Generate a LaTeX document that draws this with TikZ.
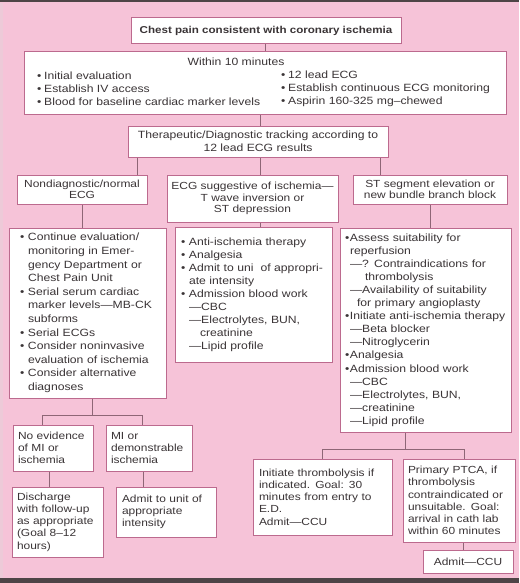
\documentclass[tikz,border=0pt]{standalone}
\usepackage{fontspec}
\newfontfamily\chartfont{Liberation Sans}[FakeStretch=1.16]

\definecolor{pagepink}{HTML}{F6C3D8}
\definecolor{edgepink}{HTML}{EDCAD8}
\definecolor{boxline}{HTML}{BC6A8E}
\definecolor{linkline}{HTML}{8E6676}
\definecolor{inkgray}{HTML}{3A3436}
\definecolor{scanband}{HTML}{4E4446}

% list helpers: bullet with gap, hanging indent, tight bullet
\newcommand\bu{\makebox[8pt][l]{•}}
\newcommand\ii{\hspace*{8pt}}
\newcommand\rb{\makebox[5pt][l]{•}}

\tikzset{
  box/.style={draw=boxline, fill=white, line width=1pt, rectangle, text=inkgray},
  txt/.style={font=\chartfont\fontsize{10.5}{13.1}\selectfont},
  headtxt/.style={font=\chartfont\fontsize{10.3}{11.6}\selectfont},
  smalltxt/.style={font=\chartfont\fontsize{10.3}{12.2}\selectfont},
  listbox/.style={box, align=left, inner ysep=0pt},
  link/.style={draw=linkline, line width=0.9pt},
}

\begin{document}
\begin{tikzpicture}[x=1pt,y=-1pt]
\useasboundingbox (0,0) rectangle (519,583);

% page
\fill[pagepink] (0,0) rectangle (519,583);
\fill[edgepink] (0,3) rectangle (3,578);
\fill[scanband] (0,0) rectangle (519,2.5);
\fill[scanband] (0,578) rectangle (519,583);

% first steps
\node[box, font=\chartfont\bfseries\fontsize{10}{12}\selectfont,
      minimum width=270pt, minimum height=26pt] (top) at (266,31)
  {Chest pain consistent with coronary ischemia};

\node[box, minimum width=482pt, minimum height=63pt] (within) at (265,83.5) {};
\node[txt, text=inkgray, inner sep=0pt] (withinhead) at (236,62) {Within 10 minutes};
\node[txt, text=inkgray, inner sep=0pt, anchor=west, align=left] (withinleft) at (37,88.5)
  {\makebox[7pt][l]{•}Initial evaluation\\
   \makebox[7pt][l]{•}Establish IV access\\
   \makebox[7pt][l]{•}Blood for baseline cardiac marker levels};
\node[txt, text=inkgray, inner sep=0pt, anchor=west, align=left] (withinright) at (281,88.5)
  {\makebox[7pt][l]{•}12 lead ECG\\
   \makebox[7pt][l]{•}Establish continuous ECG monitoring\\
   \makebox[7pt][l]{•}Aspirin 160-325 mg–chewed};

\node[box, txt, align=center, minimum width=260pt, minimum height=31pt] (therap) at (258,141.5)
  {Therapeutic/Diagnostic tracking according to\\12 lead ECG results};

% ECG categories
\node[box, headtxt, align=center, minimum width=130pt, minimum height=29pt] (nondiag) at (82,189.5)
  {Nondiagnostic/normal\\ECG};
\node[box, headtxt, align=center, minimum width=171pt, minimum height=47pt] (ecgsugg) at (252.5,198.5)
  {ECG suggestive of ischemia—\\T wave inversion or\\ST depression};
\node[box, headtxt, align=center, minimum width=154pt, minimum height=29pt] (stseg) at (430,189.5)
  {ST segment elevation or\\new bundle branch block};

% management lists
\node[listbox, font=\chartfont\fontsize{10.5}{13.6}\selectfont,
      inner xsep=11pt, text width=135pt, minimum height=170pt] (leftlist) at (87.5,313)
  {\bu Continue evaluation/\\
   \ii monitoring in Emer-\\
   \ii gency Department or\\
   \ii Chest Pain Unit\\
   \bu Serial serum cardiac\\
   \ii \mbox{marker levels—MB-CK}\\
   \ii subforms\\
   \bu Serial ECGs\\
   \bu Consider noninvasive\\
   \ii \mbox{evaluation of ischemia}\\
   \bu Consider alternative\\
   \ii diagnoses};

\node[listbox, txt, font=\chartfont\fontsize{10.5}{13}\selectfont,
      inner xsep=6pt, text width=145pt, minimum height=135pt] (midlist) at (253.5,294.5)
  {\bu Anti-ischemia therapy\\
   \bu Analgesia\\
   \bu \mbox{Admit to uni\ \ of appropri-}\\
   \ii ate intensity\\
   \bu Admission blood work\\
   \ii —CBC\\
   \ii —Electrolytes, BUN,\\
   \ii\hspace*{11pt}creatinine\\
   \ii —Lipid profile};

\node[listbox, txt, inner xsep=5pt, text width=161pt, minimum height=204pt] (rightlist) at (425.5,330)
  {\rb Assess suitability for\\
   \hspace*{5pt}reperfusion\\
   \hspace*{5pt}—? Contraindications for\\
   \hspace*{20pt}thrombolysis\\
   \hspace*{5pt}\mbox{—Availability of suitability}\\
   \hspace*{12pt}\mbox{for primary angioplasty}\\
   \rb\mbox{Initiate anti-ischemia therapy}\\
   \hspace*{5pt}—Beta blocker\\
   \hspace*{5pt}—Nitroglycerin\\
   \rb Analgesia\\
   \rb Admission blood work\\
   \hspace*{5pt}—CBC\\
   \hspace*{5pt}—Electrolytes, BUN,\\
   \hspace*{5pt}—creatinine\\
   \hspace*{5pt}—Lipid profile};

% outcomes, nondiagnostic branch
\node[listbox, smalltxt, inner xsep=5pt, text width=70pt, minimum height=46pt] (noevid) at (53,448)
  {No evidence\\of MI or\\ischemia};
\node[listbox, smalltxt, inner xsep=5pt, text width=76pt, minimum height=46pt] (mi) at (149,448)
  {MI or\\\mbox{demonstrable}\\ischemia};
\node[listbox, smalltxt, inner xsep=5pt, text width=81pt, minimum height=70pt] (discharge) at (57.5,522)
  {Discharge\\with follow-up\\as appropriate\\(Goal 8–12\\hours)};
\node[listbox, smalltxt, inner xsep=6pt, text width=88pt, minimum height=50pt] (admitunit) at (166,512)
  {Admit to unit of\\appropriate\\intensity};

% outcomes, ST elevation branch
\node[listbox, smalltxt, inner xsep=6pt, text width=127pt, minimum height=76pt] (thromb) at (322.5,497)
  {Initiate thrombolysis if\\indicated. Goal: 30\\minutes from entry to\\E.D.\\Admit—CCU};
\node[listbox, smalltxt, inner xsep=5pt, text width=102pt, minimum height=83pt] (ptca) at (459,500.5)
  {Primary PTCA, if\\thrombolysis\\\mbox{contraindicated or}\\unsuitable. Goal:\\arrival in cath lab\\within 60 minutes};
\node[box, smalltxt, minimum width=90pt, minimum height=23pt] (admitccu) at (468,561.5)
  {Admit—CCU};

% connector columns
\coordinate (ca) at (265,0);
\coordinate (cb) at (260,0);
\coordinate (cc) at (137,0);
\coordinate (cd) at (380,0);
\coordinate (ce) at (82,0);
\coordinate (cf) at (430,0);
\coordinate (lbar) at (92,415);
\coordinate (cg) at (42,0);
\coordinate (ch) at (142,0);
\coordinate (ci) at (49,0);
\coordinate (cj) at (143,0);
\coordinate (rbar) at (405,449);
\coordinate (ck) at (322,0);
\coordinate (cl) at (464,0);
\coordinate (cm) at (463,0);

% connectors
\draw[link] (top.south -| ca) -- (within.north -| ca);
\draw[link] (within.south -| cb) -- (therap.north -| cb);
\draw[link] (therap.south -| cc) -- (nondiag.north -| cc);
\draw[link] (therap.south -| cb) -- (ecgsugg.north -| cb);
\draw[link] (therap.south -| cd) -- (stseg.north -| cd);
\draw[link] (nondiag.south -| ce) -- (leftlist.north -| ce);
\draw[link] (ecgsugg.south -| cb) -- (midlist.north -| cb);
\draw[link] (stseg.south -| cf) -- (rightlist.north -| cf);
\draw[link] (leftlist.south -| lbar) -- (lbar);
\draw[link] (noevid.north -| cg) -- (cg |- lbar) -- (ch |- lbar) -- (mi.north -| ch);
\draw[link] (noevid.south -| ci) -- (discharge.north -| ci);
\draw[link] (mi.south -| cj) -- (admitunit.north -| cj);
\draw[link] (rightlist.south -| rbar) -- (rbar);
\draw[link] (thromb.north -| ck) -- (ck |- rbar) -- (cl |- rbar) -- (ptca.north -| cl);
\draw[link] (ptca.south -| cm) -- (admitccu.north -| cm);
\end{tikzpicture}
\end{document}
